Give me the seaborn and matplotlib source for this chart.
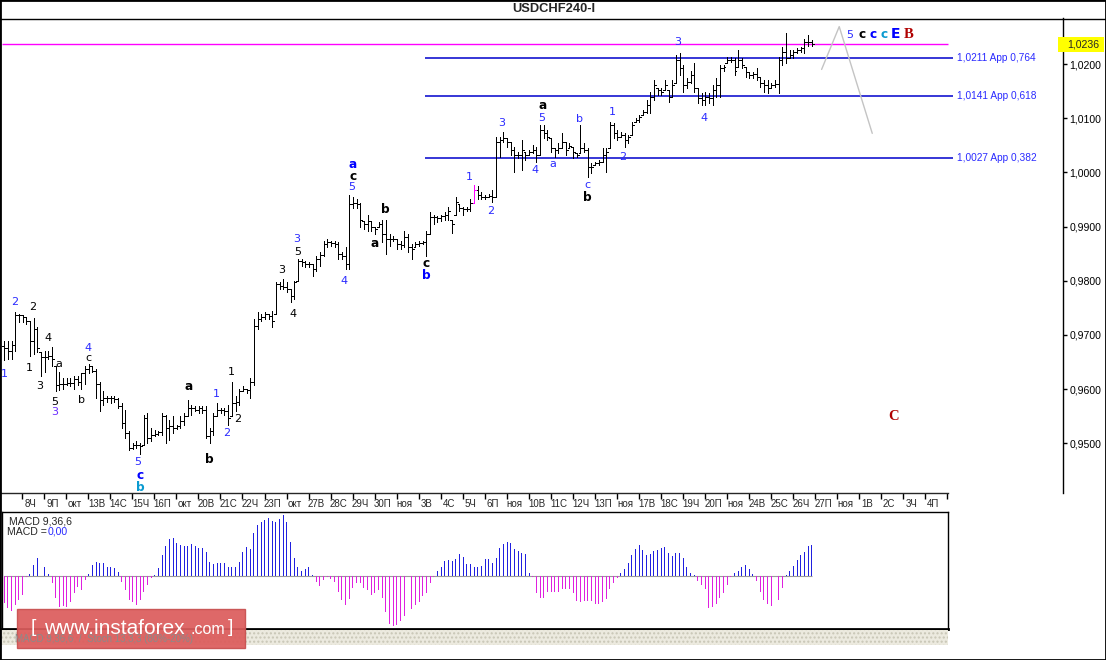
import matplotlib
matplotlib.use("Agg")
import matplotlib.pyplot as plt
import matplotlib.transforms as mtrans
from matplotlib.patches import Rectangle
from matplotlib.lines import Line2D
import numpy as np
import pandas as pd
import seaborn as sns

# ---------------- data (prices in pips, i.e. price * 10000) ----------------
first_open_pips = 9680
high_pips = [
    9688, 9689, 9689, 9743, 9739, 9737, 9733, 9726, 9732, 9715,
    9669, 9671, 9671, 9678, 9643, 9632, 9620, 9620, 9620, 9625,
    9625, 9629, 9642, 9647, 9642, 9638, 9614, 9596, 9588, 9587,
    9587, 9583, 9574, 9561, 9522, 9500, 9504, 9500, 9552, 9555,
    9528, 9524, 9522, 9555, 9552, 9543, 9550, 9533, 9550, 9555,
    9579, 9570, 9568, 9568, 9568, 9568, 9528, 9555, 9574, 9565,
    9565, 9570, 9614, 9588, 9601, 9605, 9601, 9620, 9730, 9743,
    9739, 9743, 9739, 9744, 9798, 9798, 9803, 9798, 9785, 9799,
    9840, 9840, 9836, 9834, 9831, 9845, 9853, 9873, 9877, 9873,
    9873, 9871, 9853, 9862, 9959, 9954, 9950, 9944, 9910, 9922,
    9910, 9900, 9908, 9913, 9913, 9886, 9882, 9877, 9873, 9891,
    9886, 9867, 9871, 9873, 9873, 9891, 9926, 9922, 9919, 9922,
    9926, 9937, 9913, 9954, 9941, 9937, 9937, 9950, 9977, 9974,
    9963, 9959, 9961, 9968, 10066, 10066, 10075, 10064, 10056, 10047,
    10038, 10060, 10038, 10042, 10051, 10047, 10088, 10088, 10078, 10064,
    10045, 10054, 10073, 10056, 10054, 10047, 10036, 10088, 10054, 10045,
    10018, 10020, 10023, 10045, 10045, 10093, 10091, 10078, 10075, 10073,
    10069, 10093, 10100, 10106, 10115, 10133, 10148, 10170, 10155, 10155,
    10170, 10152, 10170, 10216, 10220, 10198, 10174, 10188, 10201, 10155,
    10146, 10148, 10146, 10161, 10174, 10198, 10198, 10212, 10212, 10211,
    10225, 10211, 10194, 10185, 10185, 10192, 10176, 10170, 10170, 10165,
    10170, 10212, 10231, 10258, 10225, 10225, 10229, 10231, 10247, 10253, 10244,
]
low_pips = [
    9653, 9656, 9656, 9671, 9724, 9724, 9721, 9662, 9665, 9669,
    9625, 9632, 9656, 9643, 9596, 9598, 9601, 9607, 9605, 9601,
    9607, 9601, 9610, 9629, 9632, 9583, 9559, 9570, 9577, 9574,
    9577, 9565, 9528, 9510, 9487, 9489, 9491, 9480, 9497, 9500,
    9504, 9513, 9515, 9515, 9500, 9506, 9519, 9526, 9528, 9533,
    9550, 9552, 9559, 9555, 9555, 9510, 9500, 9515, 9550, 9555,
    9552, 9533, 9550, 9559, 9570, 9596, 9592, 9583, 9607, 9711,
    9726, 9730, 9730, 9715, 9739, 9785, 9785, 9779, 9761, 9766,
    9799, 9827, 9825, 9825, 9809, 9818, 9827, 9845, 9862, 9864,
    9862, 9840, 9840, 9821, 9821, 9935, 9935, 9900, 9895, 9891,
    9891, 9886, 9899, 9871, 9849, 9864, 9873, 9858, 9858, 9862,
    9853, 9840, 9862, 9864, 9867, 9845, 9886, 9904, 9908, 9910,
    9913, 9913, 9889, 9922, 9928, 9922, 9928, 9928, 9944, 9950,
    9950, 9950, 9954, 9946, 9954, 10029, 10056, 10047, 10032, 10001,
    10027, 10005, 10023, 10032, 10036, 10020, 10032, 10064, 10060, 10038,
    10029, 10036, 10045, 10032, 10045, 10027, 10029, 10036, 10038, 9992,
    9999, 10014, 10014, 10020, 10001, 10045, 10064, 10060, 10066, 10047,
    10054, 10069, 10093, 10093, 10106, 10110, 10110, 10133, 10143, 10143,
    10152, 10130, 10139, 10165, 10179, 10148, 10155, 10165, 10148, 10128,
    10124, 10124, 10128, 10124, 10139, 10139, 10188, 10201, 10203, 10179,
    10194, 10192, 10176, 10174, 10174, 10170, 10157, 10148, 10146, 10155,
    10157, 10146, 10198, 10201, 10211, 10211, 10220, 10222, 10220, 10234, 10234,
]
close_pips = [
    9675, 9671, 9682, 9737, 9737, 9733, 9726, 9688, 9711, 9675,
    9660, 9660, 9662, 9656, 9607, 9610, 9610, 9612, 9612, 9618,
    9614, 9629, 9638, 9642, 9634, 9610, 9579, 9583, 9583, 9583,
    9581, 9568, 9537, 9519, 9491, 9497, 9497, 9495, 9546, 9510,
    9515, 9517, 9520, 9550, 9528, 9532, 9528, 9532, 9541, 9550,
    9565, 9565, 9561, 9565, 9561, 9513, 9522, 9550, 9561, 9561,
    9559, 9546, 9574, 9577, 9596, 9601, 9599, 9614, 9717, 9730,
    9733, 9739, 9735, 9726, 9794, 9790, 9788, 9785, 9772, 9798,
    9836, 9834, 9831, 9831, 9821, 9840, 9847, 9867, 9871, 9869,
    9867, 9849, 9845, 9831, 9941, 9944, 9941, 9913, 9904, 9910,
    9900, 9895, 9904, 9886, 9877, 9877, 9877, 9867, 9866, 9880,
    9862, 9858, 9867, 9869, 9871, 9886, 9917, 9917, 9915, 9919,
    9922, 9928, 9904, 9946, 9935, 9932, 9933, 9944, 9968, 9959,
    9955, 9955, 9957, 9954, 10056, 10060, 10064, 10056, 10042, 10032,
    10032, 10042, 10032, 10038, 10042, 10032, 10078, 10073, 10066, 10045,
    10042, 10045, 10056, 10042, 10049, 10038, 10032, 10045, 10042, 10009,
    10009, 10018, 10020, 10032, 10038, 10088, 10073, 10066, 10069, 10060,
    10066, 10088, 10097, 10102, 10111, 10124, 10139, 10161, 10152, 10148,
    10161, 10139, 10161, 10207, 10192, 10161, 10166, 10179, 10155, 10137,
    10133, 10139, 10137, 10152, 10161, 10192, 10194, 10207, 10207, 10188,
    10207, 10198, 10185, 10179, 10181, 10176, 10165, 10161, 10155, 10161,
    10163, 10207, 10222, 10211, 10216, 10222, 10225, 10229, 10240, 10240, 10236,
]
marked_bar = 128  # bar drawn in magenta

# MACD(9,36,6) histogram, units of 1e-5
macd_hist = [
    -27.7, -32.7, -35, -29, -24, -19, -1, 1.7, 10.7, 18,
    14, 8.3, 1.7, -7.7, -22.7, -31.7, -30, -31.7, -26, -17.7,
    -11, -14.3, -4.3, 1.7, 10.7, 14, 13, 12.3, 9, 8.3,
    7.3, 4, -6, -14.3, -24.3, -26, -29.3, -24.3, -16, -9.3,
    -2.7, 0.3, 7.3, 20.7, 29.7, 36.3, 37.3, 33, 30.7, 29.7,
    29.7, 31.3, 29.7, 27.3, 27.3, 24, 14, 11.7, 13, 13,
    13, 9, 9, 9, 14, 24, 28.3, 26.3, 42.3, 50.7,
    54, 55.7, 57.3, 55, 54, 56.3, 60.7, 54, 34, 17.3,
    8.3, 5, 6.3, 9, 0.7, -6, -10.3, -4.3, -1.7, -3.7,
    -6, -16, -24.3, -29.3, -23.7, -12.7, -7.7, -7.7, -12.7, -14.3,
    -19.3, -17.7, -14.3, -22.7, -36, -48.3, -50, -49.3, -45, -40.3,
    -35, -33.7, -29.3, -26, -20.3, -17.7, -7.7, -1, 5, 9,
    15, 15.7, 15, 16.7, 21.7, 19, 11.7, 11.7, 9, 8.3,
    9.7, 16.3, 16.3, 13, 18, 27.3, 31.7, 33.7, 33, 26.3,
    25, 23, 21.7, 2.3, -1.7, -17, -22.7, -22.7, -16, -16,
    -16, -16, -13.7, -13.7, -13.3, -17.7, -25.3, -26, -25.3, -25,
    -25, -28.7, -28.7, -26, -23.3, -13.3, -7, -2.7, 3, 6.3,
    13, 20.7, 26.3, 30.7, 25.7, 20.7, 21.3, 24.7, 25.7, 27.3,
    28.3, 23, 19.7, 22.3, 23, 17.3, 8.3, 2.3, 0.3, -5,
    -9.3, -13.7, -32.7, -31, -28.3, -22.7, -17, -9.3, -1.7, 2.3,
    5, 8.3, 10.7, 6.3, 1.7, -5, -16, -24.3, -28.3, -30,
    -29.3, -24.3, -12.7, 0.3, 4.7, 9.7, 15.7, 20.7, 23.7, 29.7, 30.7,
]

current_price = 1.0236
fib_levels = [1.0211, 1.0141, 1.0027]
fib_ratios = ["0,764", "0,618", "0,382"]
price_ticks = [0.95, 0.96, 0.97, 0.98, 0.99, 1.00, 1.01, 1.02]

# projected path (bar index, price)
proj_bars = [222.7, 227.5, 236.5]
proj_prices = [1.0190, 1.0269, 1.0072]

day_labels = ["8Ч", "9П", "окт", "13В", "14С", "15Ч", "16П", "окт", "20В", "21С",
              "22Ч", "23П", "окт", "27В", "28С", "29Ч", "30П", "ноя", "3В", "4С",
              "5Ч", "6П", "ноя", "10В", "11С", "12Ч", "13П", "ноя", "17В", "18С",
              "19Ч", "20П", "ноя", "24В", "25С", "26Ч", "27П", "ноя", "1В", "2С",
              "3Ч", "4П", "д"]

# wave marks: (text, bar index, price, kind)
wave_labels = [
    ("1", -0.1, 0.9628, "num_blue"), ("2", 2.9, 0.9761, "num_blue"),
    ("2", 7.8, 0.9752, "num_black"), ("1", 6.7, 0.9639, "num_black"),
    ("4", 11.9, 0.9694, "num_black"), ("3", 9.7, 0.9606, "num_black"),
    ("a", 14.9, 0.9646, "let_black"), ("5", 13.8, 0.9576, "num_black"),
    ("3", 13.8, 0.9558, "num_purple"), ("4", 22.8, 0.9676, "num_blue"),
    ("c", 22.8, 0.9657, "let_black"), ("b", 20.9, 0.9580, "let_black"),
    ("5", 36.4, 0.9466, "num_blue"), ("c", 37.0, 0.9441, "bold_blue"),
    ("b", 37.0, 0.9418, "bold_cyan"), ("a", 50.1, 0.9604, "bold_black"),
    ("b", 55.8, 0.9471, "bold_black"), ("1", 57.7, 0.9591, "num_blue"),
    ("2", 60.7, 0.9519, "num_blue"), ("1", 61.8, 0.9632, "num_black"),
    ("2", 63.7, 0.9545, "num_black"), ("3", 75.7, 0.9820, "num_black"),
    ("4", 78.7, 0.9739, "num_black"), ("3", 79.8, 0.9877, "num_blue"),
    ("5", 80.0, 0.9853, "num_black"), ("4", 92.6, 0.9800, "num_blue"),
    ("5", 94.7, 0.9973, "num_blue"), ("c", 95.0, 0.9993, "bold_black"),
    ("a", 95.0, 1.0014, "bold_blue"), ("b", 103.7, 0.9931, "bold_black"),
    ("a", 101.0, 0.9868, "bold_black"), ("c", 114.9, 0.9832, "bold_black"),
    ("b", 114.9, 0.9809, "bold_blue"), ("1", 126.6, 0.9991, "num_blue"),
    ("2", 132.6, 0.9929, "num_blue"), ("3", 135.6, 1.0091, "num_blue"),
    ("4", 144.6, 1.0004, "num_blue"), ("5", 146.5, 1.0100, "num_blue"),
    ("a", 146.8, 1.0124, "bold_black"), ("a", 149.5, 1.0015, "let_blue"),
    ("b", 156.6, 1.0099, "let_blue"), ("c", 158.8, 0.9977, "let_blue"),
    ("b", 158.8, 0.9953, "bold_black"), ("1", 165.6, 1.0111, "num_blue"),
    ("2", 168.6, 1.0028, "num_blue"), ("3", 183.6, 1.0241, "num_blue"),
    ("4", 190.6, 1.0100, "num_blue"), ("5", 230.4, 1.0254, "num_blue"),
    ("c", 233.7, 1.0254, "bold_black"), ("c", 236.7, 1.0254, "bold_blue"),
    ("c", 239.7, 1.0254, "bold_cyan"), ("E", 242.7, 1.0255, "big_blue"),
    ("B", 246.5, 1.0255, "serif_red"), ("C", 242.4, 0.9549, "serif_red"),
]

label_style = {
    "num_blue": dict(color="#2a2aff", fontsize=8),
    "num_black": dict(color="black", fontsize=8),
    "num_purple": dict(color="#6a2cff", fontsize=8),
    "let_black": dict(color="black", fontsize=8),
    "let_blue": dict(color="#2a2aff", fontsize=8),
    "bold_black": dict(color="black", fontsize=8.7, fontweight="bold"),
    "bold_blue": dict(color="#0000ff", fontsize=8.7, fontweight="bold"),
    "bold_cyan": dict(color="#0a9ad0", fontsize=8.7, fontweight="bold"),
    "big_blue": dict(color="#0000ff", fontsize=10, fontweight="bold"),
    "serif_red": dict(color="#b00000", fontsize=10.5, fontweight="bold",
                      family="Liberation Serif"),
}

# ---------------- layout ----------------
sns.set_style("white")
plt.rcParams["font.family"] = ["Liberation Sans", "DejaVu Sans"]

W, H = 1106, 660
PX0, STEP = 4.3, 3.67          # pixel x of first bar, pixels per bar


def box(x0, y0, x1, y1):
    return [x0 / W, 1 - y1 / H, (x1 - x0) / W, (y1 - y0) / H]


def bar_at(px):
    return (px - PX0) / STEP


fig = plt.figure(figsize=(W / 100, H / 100), dpi=100, facecolor="white")
ax = fig.add_axes(box(2, 18, 1063, 493))
axd = fig.add_axes(box(0, 493, 948, 512))
axm = fig.add_axes(box(2, 512, 948, 629))

# ---- price chart ----
bars = np.arange(len(close_pips))
hi = np.array(high_pips) / 1e4
lo = np.array(low_pips) / 1e4
cl = np.array(close_pips) / 1e4
op = np.clip(np.r_[first_open_pips / 1e4, cl[:-1]], lo, hi)
col = np.where(bars == marked_bar, "#ff00ff", "black")

bar_lw = 0.72  # one pixel
ax.vlines(bars, lo, hi, colors=col, lw=bar_lw, zorder=3, antialiased=False)
ax.hlines(op, bars - 0.5, bars, colors=col, lw=bar_lw, zorder=3, antialiased=False)
ax.hlines(cl, bars, bars + 0.5, colors=col, lw=bar_lw, zorder=3, antialiased=False)

ax.set_xlim(bar_at(2), bar_at(1063))
ax.set_ylim(1.02 - (493 - 64) / 5418.6, 1.02 + (64 - 18) / 5418.6)

ax.hlines(current_price, bar_at(2), bar_at(948), color="#ff00ff", lw=1, zorder=2)
for lvl, r in zip(fib_levels, fib_ratios):
    ax.hlines(lvl, bar_at(425), bar_at(953), color="#0000cc", lw=1.1, zorder=2)
    ax.text(bar_at(957), lvl, f"{lvl:.4f}".replace(".", ",") + " App " + r,
            color="#2a2aff", fontsize=7.3, ha="left", va="center")

sns.lineplot(x=proj_bars, y=proj_prices, sort=False, estimator=None,
             color="#c4c4c4", lw=1, ax=ax)

for txt, b, p, kind in wave_labels:
    st = dict(label_style[kind])
    fam = st.pop("family", "DejaVu Sans")
    ax.text(b, p, txt, ha="center", va="center", family=fam, zorder=4, **st)

ax.yaxis.tick_right()
ax.set_yticks(price_ticks)
ax.set_yticklabels([f"{t:.4f}".replace(".", ",") for t in price_ticks])
ax.tick_params(axis="y", direction="out", length=3, width=1, labelsize=7.6,
               pad=1.5, colors="black")
ax.set_xticks([])
for s in ["top", "left", "bottom"]:
    ax.spines[s].set_visible(False)
ax.spines["right"].set_color("black")
ax.spines["right"].set_linewidth(1)
ax.set_xlabel("")
ax.set_ylabel("")

# current price flag
tr = mtrans.blended_transform_factory(fig.transFigure, ax.transData)
ax.add_patch(Rectangle((1058 / W, current_price - 0.0013), 46 / W, 0.0026,
                       transform=tr, facecolor="#ffff00", edgecolor="none",
                       clip_on=False, zorder=6))
ax.text(1067 / W, current_price, f"{current_price:.4f}".replace(".", ","),
        transform=tr, fontsize=7.6, ha="left", va="center", zorder=7)

# ---- date row ----
axd.set_xlim(bar_at(0), bar_at(948))
axd.set_ylim(0, 1)
ticks = [4.9 + 6 * k for k in range(len(day_labels))]
axd.xaxis.tick_top()
axd.set_xticks(ticks)
axd.set_xticklabels([])
axd.set_yticks([])
axd.tick_params(axis="x", direction="in", length=4, width=1, colors="black")
for s in ["left", "right", "bottom"]:
    axd.spines[s].set_visible(False)
axd.spines["top"].set_linewidth(1)
for t, lab in zip(ticks, day_labels):
    axd.text(t + 2.2, 0.42, lab, fontsize=7, ha="center", va="center",
             clip_on=True)
axd.patch.set_alpha(0)

# ---- MACD ----
mdf = pd.DataFrame({"bar": bars, "hist": macd_hist})
mdf["sign"] = np.where(mdf["hist"] >= 0, "up", "down")
sns.barplot(data=mdf, x="bar", y="hist", hue="sign", native_scale=True,
            palette={"up": "#0000ff", "down": "#ff00ff"}, width=0.27,
            linewidth=0, dodge=False, errorbar=None, legend=False, ax=axm)
for patch in axm.patches:
    patch.set_antialiased(False)
axm.hlines(0, 0, len(bars) - 1, color="#9a9a9a", lw=0.8, zorder=0)
axm.set_xlim(bar_at(2), bar_at(948))
axm.set_ylim(-53.3, 63.7)
axm.set_xticks([])
axm.set_yticks([])
axm.set_xlabel("")
axm.set_ylabel("")
for s in axm.spines.values():
    s.set_visible(True)
    s.set_color("black")
    s.set_linewidth(1)
axm.spines["bottom"].set_linewidth(2)

fig.text(9 / W, 1 - 521 / H, "MACD 9,36,6", fontsize=7.6, ha="left", va="center")
fig.text(7 / W, 1 - 532 / H, "MACD =", fontsize=7.6, ha="left", va="center")
fig.text(48 / W, 1 - 532 / H, "0,00", fontsize=7.6, color="#2a2aff",
         ha="left", va="center")

# ---- bottom tab strip ----
fig.add_artist(Rectangle((0, 1 - 645 / H), 948 / W, 15 / H,
                         transform=fig.transFigure, facecolor="#eceadf",
                         edgecolor="#c8c6b6", hatch="....", lw=0))
fig.text(15 / W, 1 - 639 / H, "MACD 9,36,6  /  Stoch 13,3,3 (80%-20%)",
         fontsize=7, color="#8a8a8a", ha="left", va="center")

# ---- logo ----
fig.add_artist(Rectangle((17 / W, 1 - 648 / H), 228 / W, 39 / H,
                         transform=fig.transFigure, facecolor="#dc5c5c",
                         edgecolor="#c85050", lw=1, alpha=0.93))
fig.text(31 / W, 1 - 628 / H, "[", color="white", fontsize=14, ha="left", va="center")
fig.text(44 / W, 1 - 628 / H, "www.instaforex", color="white", fontsize=15,
         ha="left", va="center")
fig.text(190 / W, 1 - 629 / H, ".com", color="white", fontsize=11.5,
         ha="left", va="center")
fig.text(228 / W, 1 - 628 / H, "]", color="white", fontsize=14, ha="left", va="center")

# ---- frame & title ----
fig.text(554 / W, 1 - 9.5 / H, "USDCHF240-I", fontsize=9.3, fontweight="bold",
         ha="center", va="center")
fig.add_artist(Line2D([0, 1], [1 - 18.5 / H] * 2, color="black", lw=1))
fig.add_artist(Rectangle((0, 0), 1, 1, transform=fig.transFigure, fill=False,
                         edgecolor="black", lw=2))

fig.savefig("out.png", dpi=100)
